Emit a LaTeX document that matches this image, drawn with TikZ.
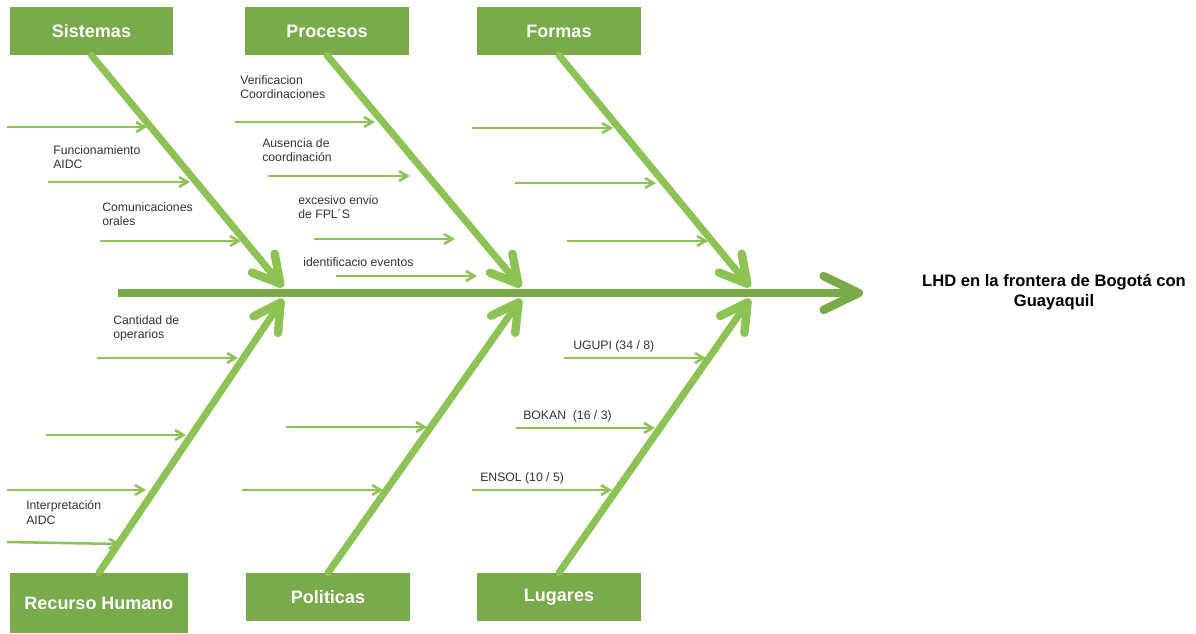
\documentclass[tikz,border=0pt]{standalone}
\usepackage{fontspec}
\setmainfont{Liberation Sans}
\usetikzlibrary{arrows.meta}
\definecolor{boxgreen}{HTML}{7AAB4A}
\definecolor{bonegreen}{HTML}{8DC255}
\definecolor{labelgray}{HTML}{333333}
\tikzset{
  causebox/.style={fill=boxgreen, text=white, inner sep=0pt, minimum width=4.075cm,
    minimum height=1.2cm, font=\bfseries\fontsize{12.8}{15}\selectfont},
  bone/.style={draw=bonegreen, line width=5pt, line cap=round,
    -{Straight Barb[round, length=19pt, width=21pt, line width=6pt]}},
  spine/.style={draw=boxgreen, line width=5.7pt,
    -{Straight Barb[round, length=25pt, width=24pt, line width=6pt]}},
  twig/.style={draw=bonegreen, line width=1.8pt, -{Straight Barb[length=6pt,width=7pt]}},
  cause/.style={anchor=north west, inner sep=0pt, align=left, text=labelgray,
    font=\fontsize{8.7}{10.5}\selectfont},
  effect/.style={align=center, inner sep=0pt, font=\bfseries\fontsize{11.8}{14}\selectfont}
}
\begin{document}
\begin{tikzpicture}[x=0.025cm, y=-0.025cm]
  \useasboundingbox (0,0) rectangle (1196,633);
  \node [causebox] (sis) at (91.5,31) {Sistemas};
  \node [causebox] (pro) at (327,31) {Procesos};
  \node [causebox] (for) at (559,31) {Formas};
  \node [causebox, minimum width=4.45cm, minimum height=1.5cm] (rec) at (99,603) {Recurso Humano};
  \node [causebox] (pol) at (328,597) {Politicas};
  \node [causebox] (lug) at (559,597) {Lugares};
  \node [effect] (lhd) at (1054,292) {LHD en la frontera de Bogotá con\\Guayaquil};
  \coordinate (tail) at (118,293);
  \coordinate (head) at (863,293);
  \draw [spine] (tail) -- (head);
  \foreach \j/\x in {1/283, 2/521, 3/750}{
    \coordinate (up\j) at (\x,287);
    \coordinate (dn\j) at (\x,299);
  }
  \draw [bone] (sis.south) -- (up1);
  \draw [bone] (pro.south) -- (up2);
  \draw [bone] (for.south) -- (up3);
  \draw [bone] (rec.north) -- (dn1);
  \draw [bone] (pol.north) -- (dn2);
  \draw [bone] (lug.north) -- (dn3);
  \foreach \n/\xa/\ya/\xb/\yb in {
      1/7/127/147/127, 2/48/182/190/182, 3/100/241/241/241,
      4/235/122/375/122, 5/268/176/410/176, 6/314/239/455/239, 7/336/276/477/276,
      8/472/128/613/128, 9/515/183/656/183, 10/567/241/708/241,
      11/97/358/238/358, 12/46/435/186/435, 13/7/490/146/490, 14/7/542/120/544,
      15/286/427/427/427, 16/242/490/383/490,
      17/564/358/706/358, 18/516/428/655/428, 19/472/490/612/490}{
    \coordinate (t\n a) at (\xa,\ya);
    \coordinate (t\n b) at (\xb,\yb);
    \draw [twig] (t\n a) -- (t\n b);
  }
  \node [cause] (funaidc) at (53,145) {Funcionamiento\\AIDC};
  \node [cause] (comora) at (102,202) {Comunicaciones\\orales};
  \node [cause] (vercoo) at (240,75) {Verificacion\\Coordinaciones};
  \node [cause] (auscoo) at (262,138) {Ausencia de\\coordinación};
  \node [cause] (excfpl) at (298,195) {excesivo envio\\de FPL´S};
  \node [cause] (ideeve) at (303,257) {identificacio eventos};
  \node [cause] (canope) at (113,315) {Cantidad de\\operarios};
  \node [cause] (intaidc) at (26,500) {Interpretación\\AIDC};
  \node [cause] (ugupi) at (573,340) {UGUPI (34 / 8)};
  \node [cause] (bokan) at (523,410) {BOKAN~ (16 / 3)};
  \node [cause] (ensol) at (480,472) {ENSOL (10 / 5)};
\end{tikzpicture}
\end{document}
